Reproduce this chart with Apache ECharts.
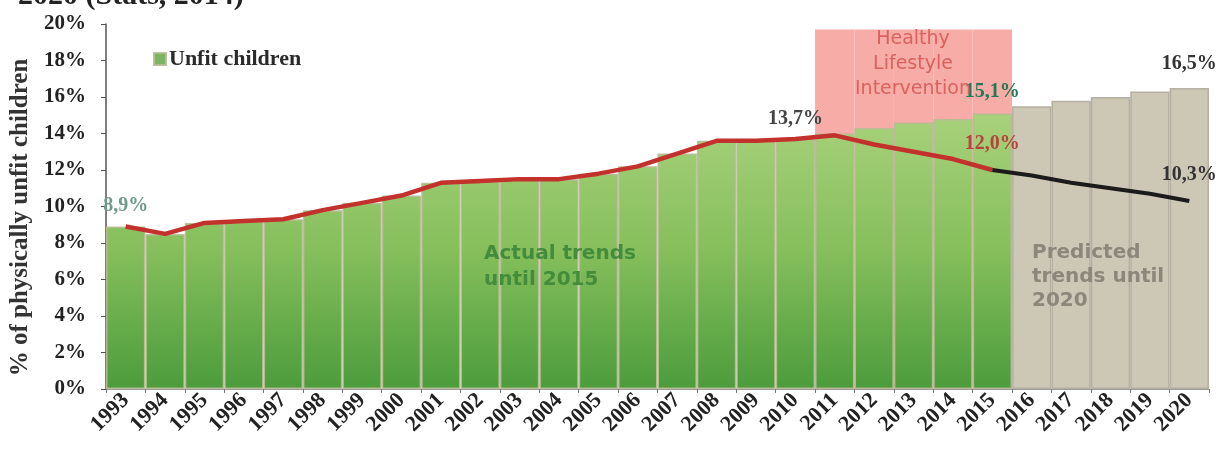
<!DOCTYPE html>
<html>
<head>
<meta charset="utf-8">
<script src="https://cdn.jsdelivr.net/npm/echarts@6/dist/echarts.min.js"></script>
<style>
  html, body { margin: 0; padding: 0; background: #ffffff; }
  #chart { width: 1219px; height: 454px; }
</style>
</head>
<body>
<div id="chart"></div>
<script>
// Years on the category axis
const years = ['1993','1994','1995','1996','1997','1998','1999','2000','2001','2002',
  '2003','2004','2005','2006','2007','2008','2009','2010','2011','2012','2013','2014',
  '2015','2016','2017','2018','2019','2020'];

// Share of unfit children (%), observed 1993-2015
const actualUnfit = [8.9, 8.5, 9.1, 9.2, 9.3, 9.8, 10.2, 10.6, 11.3, 11.4, 11.5, 11.5,
  11.8, 12.2, 12.9, 13.6, 13.6, 13.7, 14.0, 14.3, 14.6, 14.8, 15.1];
// Projected share without intervention, 2016-2020
const predictedUnfit = [15.5, 15.8, 16.0, 16.3, 16.5];
// Trend line with the intervention, 1993-2015
const trendActual = [8.9, 8.5, 9.1, 9.2, 9.3, 9.8, 10.2, 10.6, 11.3, 11.4, 11.5, 11.5,
  11.8, 12.2, 12.9, 13.6, 13.6, 13.7, 13.9, 13.4, 13.0, 12.6, 12.0];
// Trend line with the intervention, 2015-2020
const trendPredicted = [12.0, 11.7, 11.3, 11.0, 10.7, 10.3];
// Intervention period
const interventionYears = ['2011','2012','2013','2014','2015'];
const interventionTop = 19.7;
// Axis ticks
const yTicks = { min: 0, max: 20, interval: 2 };

const fmt = v => v.toFixed(1).replace('.', ',') + '%';
const serif = '"Liberation Serif", "DejaVu Serif", serif';
const sans = '"DejaVu Sans", Verdana, sans-serif';

function labelStyle(color, dist) {
  return { show: true, position: 'top', distance: dist, formatter: p => fmt(p.value),
    fontFamily: serif, fontWeight: 'bold', fontSize: 20, color: color, opacity: 1 };
}

const n = years.length;
const nAct = actualUnfit.length;

const greenData = years.map((y, i) => {
  if (i >= nAct) return '-';
  const item = { value: actualUnfit[i] };
  if (i === nAct - 1) item.label = labelStyle('#1f7a55', 12);
  return item;
});
const grayData = years.map((y, i) => {
  if (i < nAct) return '-';
  const item = { value: predictedUnfit[i - nAct] };
  if (i === n - 1) item.label = labelStyle('#333333', 14);
  return item;
});
const pinkData = years.map(y => interventionYears.includes(y) ? interventionTop : '-');

const redLabels = { 0: '#6f9a8c', 17: '#444444', 22: '#b8433c' };
const redData = years.map((y, i) => {
  if (i >= trendActual.length) return '-';
  const item = { value: trendActual[i] };
  if (redLabels[i]) item.label = labelStyle(redLabels[i], i === 22 ? 16 : 10);
  return item;
});
const blackStart = n - trendPredicted.length;
const blackData = years.map((y, i) => {
  if (i < blackStart) return '-';
  const item = { value: trendPredicted[i - blackStart] };
  if (i === n - 1) item.label = labelStyle('#333333', 16);
  return item;
});

const chart = echarts.init(document.getElementById('chart'), null, { renderer: 'canvas' });

const greenFill = {
  type: 'linear', x: 0, y: 110, x2: 0, y2: 389, global: true,
  colorStops: [
    { offset: 0, color: '#a9d27c' },
    { offset: 0.5, color: '#86bf5c' },
    { offset: 1, color: '#4c9c3c' }
  ]
};

chart.setOption({
  animation: false,
  backgroundColor: '#ffffff',
  grid: { left: 106, right: 10, top: 24, bottom: 65, containLabel: false },
  legend: {
    left: 148, top: 43,
    icon: 'rect', itemWidth: 12, itemHeight: 12, itemGap: 6,
    data: [{ name: 'Unfit children', itemStyle: { color: '#7bb562' } }],
    textStyle: { fontFamily: serif, fontWeight: 'bold', fontSize: 22, color: '#2a2a2a', padding: [0, 0, 0, -2] }
  },
  xAxis: {
    type: 'category',
    data: years,
    axisLine: { lineStyle: { color: '#9a9a9a', width: 1 } },
    axisTick: { show: true, lineStyle: { color: '#777' }, length: 4 },
    axisLabel: { interval: 0, rotate: 45, margin: 8, fontFamily: serif,
      fontWeight: 'bold', fontSize: 22, color: '#222' },
    splitLine: { show: false }
  },
  yAxis: {
    type: 'value',
    min: yTicks.min, max: yTicks.max, interval: yTicks.interval,
    name: '% of physically unfit children',
    nameLocation: 'middle', nameGap: 72, nameRotate: 90,
    nameTextStyle: { fontFamily: serif, fontWeight: 'bold', fontSize: 25, color: '#333',
      padding: [0, 22, 0, 0] },
    axisLine: { show: true, lineStyle: { color: '#555', width: 1.5 } },
    axisTick: { show: true, inside: false, length: 5, lineStyle: { color: '#555' } },
    axisLabel: { formatter: '{value}%', margin: 20, fontFamily: serif,
      fontWeight: 'bold', fontSize: 21, color: '#222' },
    splitLine: { show: false }
  },
  series: [
    {
      name: 'Intervention', type: 'bar', data: pinkData, silent: true,
      barGap: '-100%', barCategoryGap: '0%', z: 1,
      itemStyle: { color: '#f7aca7' }
    },
    {
      name: 'Unfit children', type: 'bar', data: greenData,
      barGap: '-100%', barCategoryGap: '0%', z: 2,
      itemStyle: { color: greenFill, borderColor: 'rgba(185,186,150,0.9)', borderWidth: 1.5 }
    },
    {
      name: 'Predicted', type: 'bar', data: grayData,
      barGap: '-100%', barCategoryGap: '0%', z: 2,
      itemStyle: { color: '#cdc7b6', borderColor: 'rgba(175,170,155,0.9)', borderWidth: 1.5 }
    },
    {
      name: 'Trend', type: 'line', data: redData, z: 4,
      showSymbol: true, symbol: 'circle', symbolSize: 1,
      itemStyle: { color: 'rgba(0,0,0,0)' },
      lineStyle: { color: '#c2312b', width: 4.5 }
    },
    {
      name: 'Trend forecast', type: 'line', data: blackData, z: 4,
      showSymbol: true, symbol: 'circle', symbolSize: 1,
      itemStyle: { color: 'rgba(0,0,0,0)' },
      lineStyle: { color: '#1b1b1b', width: 4 }
    }
  ],
  graphic: [
    { type: 'text', left: 18, top: -19, z: 10,
      style: { text: '2020 (Stats, 2014)', fontFamily: serif, fontWeight: 'bold',
        fontSize: 30, fill: '#222' } },
    { type: 'text', x: 913, y: 27, z: 3,
      style: { text: 'Healthy\nLifestyle\nIntervention', fontFamily: sans, fontSize: 19,
        lineHeight: 25, fill: '#d9625e', align: 'center' } },
    { type: 'text', left: 484, top: 241, z: 3,
      style: { text: 'Actual trends\nuntil 2015', fontFamily: sans, fontWeight: 'bold',
        fontSize: 20, lineHeight: 26, fill: '#438c3c' } },
    { type: 'text', left: 1032, top: 241, z: 3,
      style: { text: 'Predicted\ntrends until\n2020', fontFamily: sans, fontWeight: 'bold',
        fontSize: 20, lineHeight: 24, fill: '#8c877b' } }
  ]
});
</script>
</body>
</html>
